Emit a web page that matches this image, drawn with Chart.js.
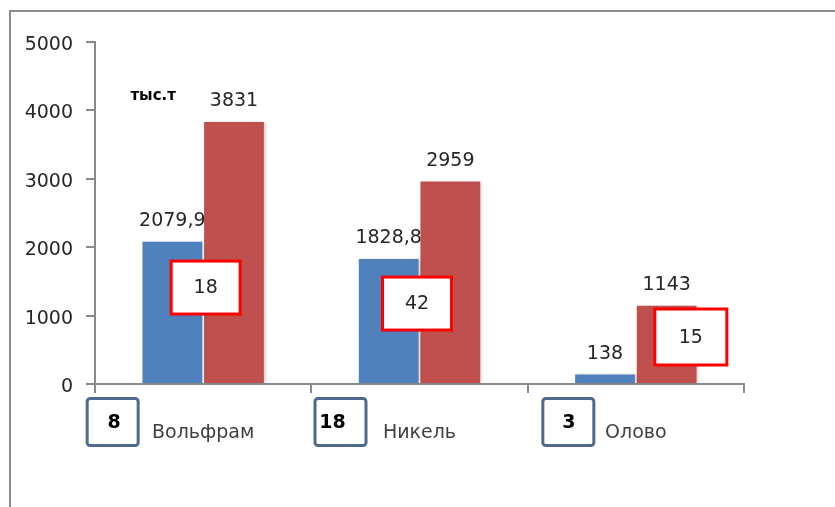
<!DOCTYPE html>
<html>
<head>
<meta charset="utf-8">
<script src="https://cdn.jsdelivr.net/npm/chart.js@4/dist/chart.umd.min.js"></script>
<style>
  html, body { margin: 0; padding: 0; background: #ffffff; }
  #wrap { position: relative; width: 835px; height: 507px; overflow: hidden; background: #fff; }
  #frame { position: absolute; left: 9px; top: 10px; width: 900px; height: 600px;
           border-left: 2px solid #8c8c8c; border-top: 2px solid #8c8c8c; box-sizing: border-box; }
  canvas { position: absolute; left: 0; top: 0; }
</style>
</head>
<body>
<div id="wrap">
  <div id="frame"></div>
  <canvas id="c" width="835" height="507"></canvas>
</div>
<script>
// ---- data ----
const categories = ['Вольфрам', 'Никель', 'Олово'];
const seriesBlue = [2079.9, 1828.8, 138];
const seriesRed = [3831, 2959, 1143];
const blueValueLabels = ['2079,9', '1828,8', '138'];
const redValueLabels = ['3831', '2959', '1143'];
const redBoxTexts = ['18', '42', '15'];
const blueBoxTexts = ['8', '18', '3'];
const yTickValues = [0, 1000, 2000, 3000, 4000, 5000];
const yTickLabels = ['0', '1000', '2000', '3000', '4000', '5000'];
const unitLabel = 'тыс.т';

const FONT = '"DejaVu Sans", sans-serif';
const AXIS = '#8a8a8a';

const annotations = {
  id: 'annotations',
  afterDatasetsDraw(chart) {
    const ctx = chart.ctx;
    const xs = chart.scales.x, ys = chart.scales.y;
    const area = chart.chartArea;
    ctx.save();
    ctx.shadowColor = 'transparent';
    // value labels above bars
    ctx.font = '19px ' + FONT;
    ctx.fillStyle = '#262626';
    ctx.textAlign = 'center';
    ctx.textBaseline = 'alphabetic';
    [[0, blueValueLabels], [1, redValueLabels]].forEach(([di, labels]) => {
      chart.getDatasetMeta(di).data.forEach((bar, i) => {
        ctx.fillText(labels[i], bar.x, bar.y - 16);
      });
    });
    // unit label
    ctx.font = 'bold 15px ' + FONT;
    ctx.fillStyle = '#000';
    ctx.fillText(unitLabel, xs.getPixelForValue(0) - 50, ys.getPixelForValue(4150));

    // red boxes
    const redDx = [2.5, -2.5, 55];
    const redVal = [1410, 1176, 687];
    const redW = [69, 69, 72], redH = [53, 53, 56];
    ctx.font = '19px ' + FONT;
    redBoxTexts.forEach((t, i) => {
      const cx = xs.getPixelForValue(i) + redDx[i];
      const cy = ys.getPixelForValue(redVal[i]);
      const w = redW[i], h = redH[i];
      ctx.fillStyle = '#fff';
      ctx.fillRect(cx - w / 2, cy - h / 2, w, h);
      ctx.strokeStyle = '#ff0000';
      ctx.lineWidth = 3;
      ctx.strokeRect(cx - w / 2, cy - h / 2, w, h);
      ctx.fillStyle = '#262626';
      ctx.textBaseline = 'middle';
      ctx.fillText(t, cx, cy + 1);
    });

    // blue-grey boxes below axis
    const blueDx = [-90.5, -79, -67.5];
    const textDx = [1.5, -8, 0.5];
    ctx.font = 'bold 19px ' + FONT;
    blueBoxTexts.forEach((t, i) => {
      const cx = xs.getPixelForValue(i) + blueDx[i];
      const top = area.bottom + 14.5;
      const w = 51, h = 47;
      ctx.beginPath();
      ctx.roundRect(cx - w / 2, top, w, h, 3);
      ctx.fillStyle = '#fff';
      ctx.fill();
      ctx.strokeStyle = '#4e6a8e';
      ctx.lineWidth = 3;
      ctx.stroke();
      ctx.fillStyle = '#000';
      ctx.textBaseline = 'middle';
      ctx.fillText(t, cx + textDx[i], top + h / 2 + 1);
    });
    ctx.restore();
  }
};

const shadow = {
  id: 'shadow',
  beforeDatasetsDraw(chart) {
    const ctx = chart.ctx;
    ctx.save();
    ctx.shadowColor = 'rgba(0,0,0,0.18)';
    ctx.shadowBlur = 3;
    ctx.shadowOffsetX = 2;
    ctx.shadowOffsetY = 0;
  },
  afterDatasetsDraw(chart) {
    chart.ctx.restore();
  }
};

new Chart(document.getElementById('c'), {
  type: 'bar',
  data: {
    labels: categories,
    datasets: [
      { data: seriesBlue, backgroundColor: '#4f81bd', borderWidth: 0,
        categoryPercentage: 0.57, barPercentage: 0.97 },
      { data: seriesRed, backgroundColor: '#c0504d', borderWidth: 0,
        categoryPercentage: 0.57, barPercentage: 0.97 }
    ]
  },
  options: {
    responsive: false,
    animation: false,
    events: [],
    layout: { padding: { top: 42, right: 91, left: 0, bottom: 0 } },
    plugins: { legend: { display: false }, tooltip: { enabled: false } },
    scales: {
      y: {
        min: 0, max: 5000,
        afterBuildTicks(scale) { scale.ticks = yTickValues.map(v => ({ value: v })); },
        afterFit(scale) { scale.width = 95; },
        ticks: {
          font: { family: FONT, size: 19 }, color: '#262626', padding: 13, labelOffset: 3,
          callback(value) { const i = yTickValues.indexOf(value); return i >= 0 ? yTickLabels[i] : ''; }
        },
        grid: { drawOnChartArea: false, drawTicks: true, tickLength: 9, color: AXIS, lineWidth: 2 },
        border: { display: true, color: AXIS, width: 2 }
      },
      x: {
        offset: true,
        afterFit(scale) { scale.height = 123; },
        ticks: { font: { family: FONT, size: 19 }, color: '#404040', padding: 29 },
        grid: { offset: true, drawOnChartArea: false, drawTicks: true, tickLength: 9, color: AXIS, lineWidth: 2 },
        border: { display: true, color: AXIS, width: 2 }
      }
    }
  },
  plugins: [shadow, annotations]
});
</script>
</body>
</html>
